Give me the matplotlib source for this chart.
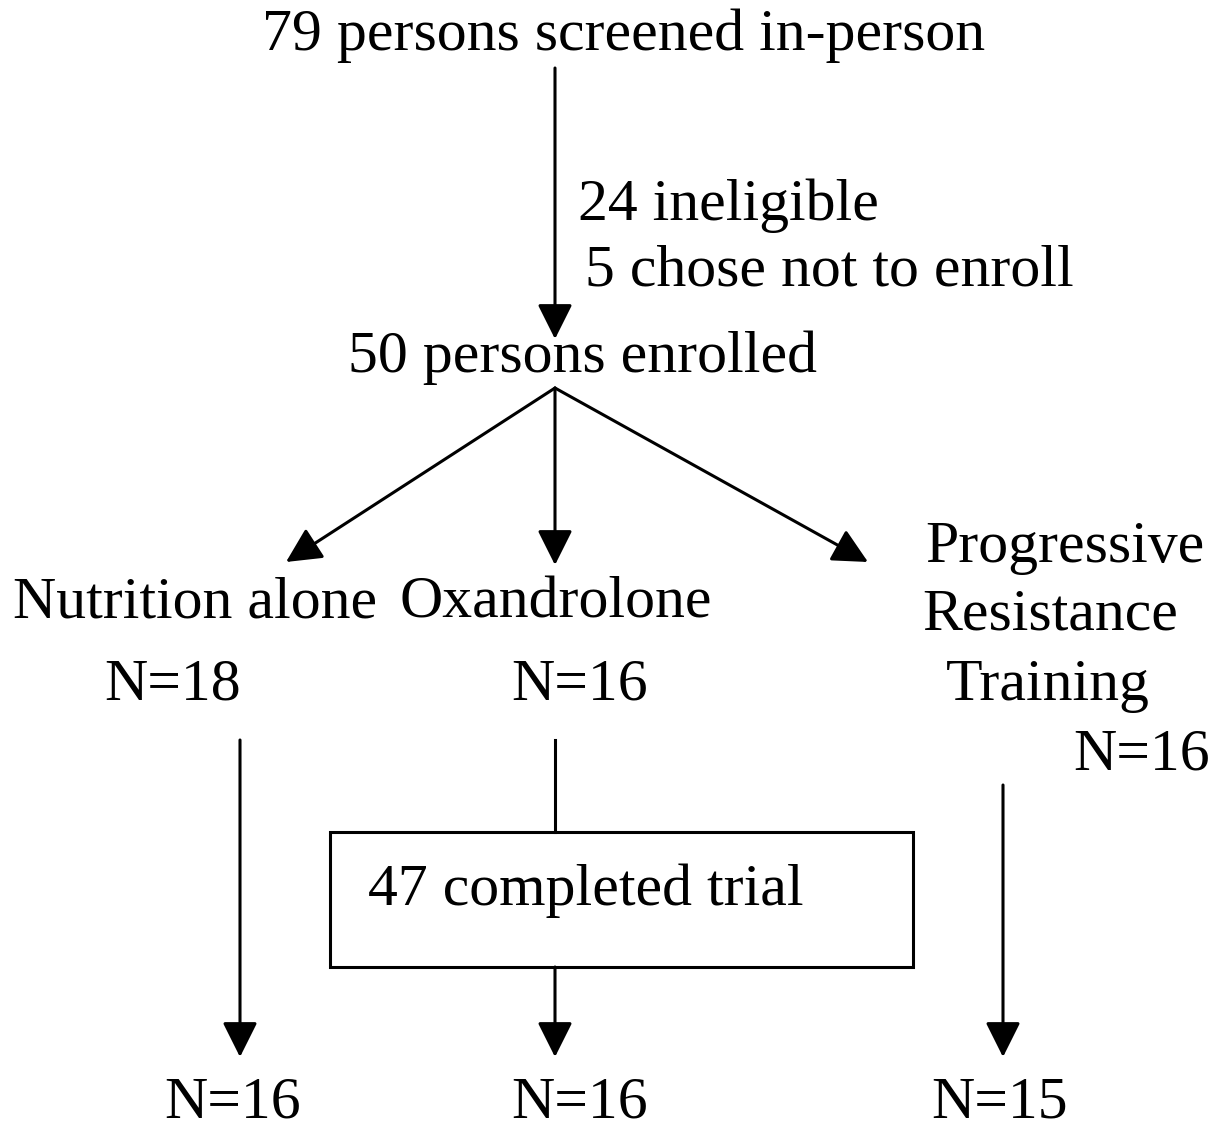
import matplotlib
matplotlib.use("Agg")
import matplotlib.pyplot as plt

# Flowchart content
title_text = "79 persons screened in-person"
excluded = ["24 ineligible", "5 chose not to enroll"]
enrolled_text = "50 persons enrolled"
arms = ["Nutrition alone", "Oxandrolone", "Progressive\nResistance\nTraining"]
arm_n_start = [18, 16, 16]
completed_text = "47 completed trial"
arm_n_end = [16, 16, 15]

W, H = 1220, 1129
fig = plt.figure(figsize=(W / 100, H / 100), dpi=100)
ax = fig.add_axes([0, 0, 1, 1])
ax.set_xlim(0, W)
ax.set_ylim(H, 0)
ax.axis("off")

FS = 43
font = dict(family=["Liberation Serif", "DejaVu Serif"], fontsize=FS, color="black")
LW = 2.2
DY = 3


def arrow(x0, y0, x1, y1):
    ax.annotate("", xy=(x1, y1), xytext=(x0, y0),
                arrowprops=dict(arrowstyle="-|>,head_length=0.98,head_width=0.49",
                                color="black", lw=LW, shrinkA=0, shrinkB=0,
                                mutation_scale=22))


def txt(x, y, s, ha="center"):
    ax.text(x, y + DY, s, ha=ha, va="center", **font)


txt(624, 33, title_text)
arrow(555, 68, 555, 339)
txt(578, 203, excluded[0], ha="left")
txt(585, 268, excluded[1], ha="left")
txt(583, 355, enrolled_text)

# split arrows
arrow(555, 388, 286, 562)
arrow(555, 388, 555, 565)
arrow(555, 388, 868, 562)

txt(195, 600, arms[0])
txt(556, 600, arms[1])
prog_lines = arms[2].split("\n")
txt(1065, 545, prog_lines[0])
txt(1050, 613, prog_lines[1])
txt(1048, 683, prog_lines[2])

txt(173, 683, f"N={arm_n_start[0]}")
txt(580, 683, f"N={arm_n_start[1]}")
txt(1142, 752, f"N={arm_n_start[2]}")

# downward arrows
arrow(240, 740, 240, 1057)
ax.plot([555, 555], [740, 832], color="black", lw=LW)
arrow(555, 967, 555, 1057)
arrow(1003, 785, 1003, 1057)

# box
ax.add_patch(plt.Rectangle((330, 832), 583, 135, fill=False, ec="black", lw=LW))
txt(368, 888, completed_text, ha="left")

txt(233, 1100, f"N={arm_n_end[0]}")
txt(580, 1100, f"N={arm_n_end[1]}")
txt(1000, 1100, f"N={arm_n_end[2]}")

fig.savefig("out.png", dpi=100, facecolor="white")
